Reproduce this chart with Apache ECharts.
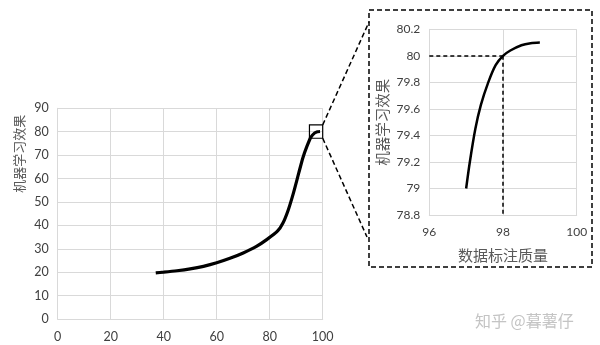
<!DOCTYPE html>
<html>
<head>
<meta charset="utf-8">
<script src="https://cdn.jsdelivr.net/npm/echarts@6/dist/echarts.min.js"></script>
<style>
html,body{margin:0;padding:0;background:#fff;}
#c{width:600px;height:345px;}
</style>
</head>
<body>
<div id="c"></div>
<script>
// ---- data ----
var mainX = [37, 40, 45, 50, 55, 60, 65, 70, 75, 79, 83, 85, 87, 89, 91, 92.5, 94, 95.5, 97, 98, 99];
var mainY = [19.7, 20.0, 20.6, 21.4, 22.5, 24.0, 25.9, 28.2, 31.0, 34.0, 37.6, 41.0, 46.6, 54.0, 62.5, 68.8, 73.6, 77.6, 79.5, 80.0, 80.1];
var zoomX = [97.0, 97.1, 97.25, 97.4, 97.6, 97.8, 98.0, 98.2, 98.5, 98.75, 99.0];
var zoomY = [79.0, 79.2, 79.45, 79.63, 79.8, 79.93, 80.0, 80.04, 80.08, 80.095, 80.1];
var zoomBox = [[95, 77.2], [100, 82.9]];
var refPoint = [98, 80];
var yName = '机器学习效果';
var xNameInset = '数据标注质量';
var watermark = '知乎 @暮薯仔';

function pairs(xs, ys) { return xs.map(function (x, i) { return [x, ys[i]]; }); }

var gridColor = '#d9d9d9';
var labelFont = 'Lato, "Open Sans", sans-serif';
var cjkFont = '"Noto Sans CJK SC", sans-serif';

var chart = echarts.init(document.getElementById('c'), null, { renderer: 'canvas' });

var option = {
  animation: false,
  backgroundColor: '#fff',
  grid: [
    { left: 57.7, top: 108.3, width: 265, height: 210.7 },
    { left: 429.3, top: 29.3, width: 147.4, height: 185.7 }
  ],
  xAxis: [
    {
      gridIndex: 0, type: 'value', min: 0, max: 100, interval: 20,
      axisLine: { show: true, lineStyle: { color: gridColor } },
      axisTick: { show: false },
      splitLine: { show: true, lineStyle: { color: gridColor } },
      axisLabel: { color: '#404040', fontSize: 12.5, fontFamily: labelFont, margin: 11 }
    },
    {
      gridIndex: 1, type: 'value', min: 96, max: 100, interval: 2,
      name: xNameInset, nameLocation: 'middle', nameGap: 33,
      nameTextStyle: { color: '#595959', fontSize: 15, fontFamily: cjkFont },
      axisLine: { show: true, lineStyle: { color: gridColor } },
      axisTick: { show: false },
      splitLine: { show: true, lineStyle: { color: gridColor } },
      axisLabel: { color: '#404040', fontSize: 12, fontFamily: labelFont, margin: 11 }
    }
  ],
  yAxis: [
    {
      gridIndex: 0, type: 'value', min: 0, max: 90, interval: 10,
      name: yName, nameLocation: 'middle', nameGap: 32,
      nameTextStyle: { color: '#595959', fontSize: 13, fontFamily: cjkFont, padding: [0, 0, 0, 120] },
      axisLine: { show: true, lineStyle: { color: gridColor } },
      axisTick: { show: false },
      splitLine: { show: true, lineStyle: { color: gridColor } },
      axisLabel: { color: '#404040', fontSize: 12.5, fontFamily: labelFont, margin: 9 }
    },
    {
      gridIndex: 1, type: 'value', min: 78.8, max: 80.2, interval: 0.2,
      name: yName, nameLocation: 'middle', nameGap: 40,
      nameTextStyle: { color: '#595959', fontSize: 14.5, fontFamily: cjkFont },
      axisLine: { show: true, lineStyle: { color: gridColor } },
      axisTick: { show: false },
      splitLine: { show: true, lineStyle: { color: gridColor } },
      axisLabel: {
        color: '#404040', fontSize: 12, fontFamily: labelFont, margin: 9,
        formatter: function (v) { return String(+v.toFixed(1)); }
      }
    }
  ],
  series: [
    {
      type: 'line', xAxisIndex: 0, yAxisIndex: 0,
      data: pairs(mainX, mainY), smooth: 0.2, showSymbol: false,
      lineStyle: { color: '#000', width: 3.2 },
      markArea: {
        silent: true,
        itemStyle: { color: 'rgba(0,0,0,0)', borderColor: '#000', borderWidth: 1.2 },
        data: [[{ coord: zoomBox[0] }, { coord: zoomBox[1] }]]
      }
    },
    {
      type: 'line', xAxisIndex: 1, yAxisIndex: 1,
      data: pairs(zoomX, zoomY), smooth: 0.3, showSymbol: false,
      lineStyle: { color: '#000', width: 2.5 },
      markLine: {
        silent: true, symbol: 'none', label: { show: false },
        lineStyle: { color: '#000', type: [4, 3], width: 1.5 },
        data: [
          [{ coord: [96, refPoint[1]] }, { coord: refPoint }],
          [{ coord: refPoint }, { coord: [refPoint[0], 78.8] }]
        ]
      }
    }
  ]
};
chart.setOption(option);

// decorations: connector lines from zoom box to inset frame
var tr = chart.convertToPixel({ gridIndex: 0 }, [zoomBox[1][0], zoomBox[1][1]]);
var br = chart.convertToPixel({ gridIndex: 0 }, [zoomBox[1][0], zoomBox[0][1]]);
var dashStyle = { stroke: '#000', lineWidth: 1.5, lineDash: [5, 3], fill: null };
chart.setOption({
  graphic: [
    { type: 'rect', shape: { x: 369, y: 10, width: 223, height: 257 }, style: dashStyle, silent: true },
    { type: 'line', shape: { x1: tr[0], y1: tr[1], x2: 369, y2: 22 }, style: dashStyle, silent: true },
    { type: 'line', shape: { x1: br[0], y1: br[1], x2: 367, y2: 237 }, style: dashStyle, silent: true },
    { type: 'text', left: 475, top: 313, style: { text: watermark, fill: '#c4c4c4', font: '16px "Noto Sans CJK SC", sans-serif' }, silent: true }
  ]
});
</script>
</body>
</html>
